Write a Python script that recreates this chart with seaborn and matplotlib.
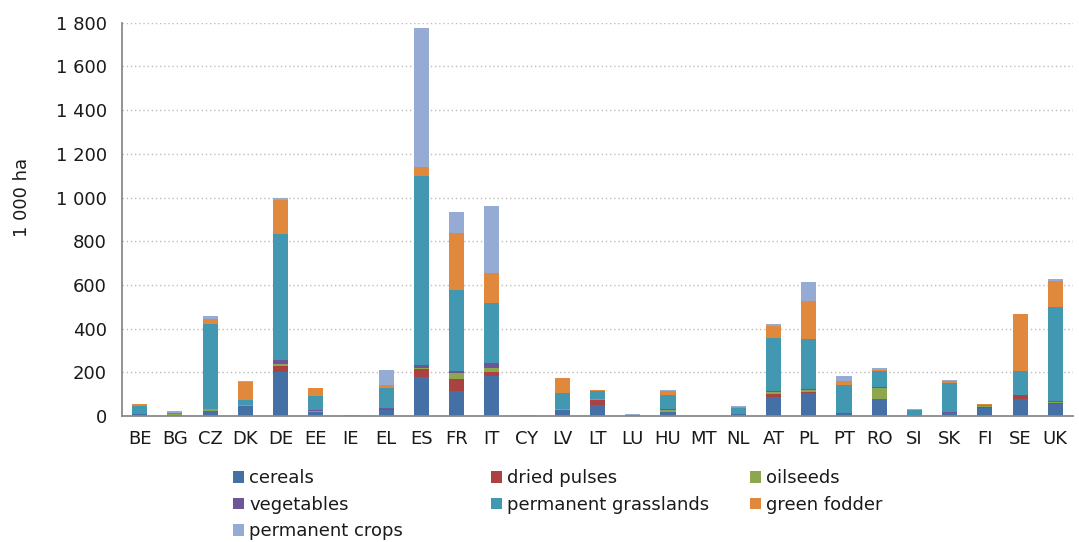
import matplotlib
matplotlib.use("Agg")
import matplotlib.pyplot as plt
import matplotlib.patches as mpatches
from matplotlib.ticker import FuncFormatter, FixedLocator
import seaborn as sns
import numpy as np
import pandas as pd

countries = ["BE", "BG", "CZ", "DK", "DE", "EE", "IE", "EL", "ES", "FR", "IT", "CY", "LV", "LT",
             "LU", "HU", "MT", "NL", "AT", "PL", "PT", "RO", "SI", "SK", "FI", "SE", "UK"]

cereals     = [8, 4, 24, 44, 203, 20, 1, 28, 177, 116, 184, 1, 27, 50, 1, 18, 0, 7, 88, 104, 8, 78, 2, 12, 36, 80, 55]
dried_pulses = [0, 0, 1, 3, 25, 0, 0, 3, 36, 52, 18, 0, 1, 25, 1, 2, 0, 0, 12, 8, 1, 0, 0, 0, 7, 14, 4]
oilseeds    = [1, 3, 6, 2, 8, 5, 0, 3, 8, 27, 16, 0, 3, 3, 0, 9, 0, 0, 11, 5, 1, 52, 0, 3, 2, 2, 3]
vegetables  = [1, 1, 1, 1, 20, 1, 0, 4, 12, 11, 23, 1, 1, 1, 1, 4, 1, 2, 5, 5, 2, 2, 1, 1, 1, 2, 7]
grasslands  = [35, 6, 388, 23, 575, 65, 1, 88, 865, 370, 274, 0, 75, 35, 2, 63, 0, 28, 242, 230, 128, 74, 24, 137, 3, 106, 430]
green_fodder = [8, 1, 25, 84, 156, 35, 1, 16, 41, 263, 141, 0, 67, 4, 1, 17, 0, 6, 53, 173, 18, 6, 2, 9, 4, 262, 121]
perm_crops  = [2, 10, 13, 3, 12, 3, 0, 68, 635, 94, 303, 3, 2, 2, 1, 6, 0, 3, 8, 87, 26, 6, 3, 2, 1, 2, 8]

series_names = ["cereals", "dried pulses", "oilseeds", "vegetables",
                "permanent grasslands", "green fodder", "permanent crops"]
series_values = [cereals, dried_pulses, oilseeds, vegetables, grasslands, green_fodder, perm_crops]
colors = ["#4470a6", "#ab4242", "#8ca74d", "#6d5599", "#4198b0", "#e0883c", "#95abd3"]

y_ticks = list(range(0, 1801, 200))

sns.set_style("white")
plt.rcParams["font.family"] = ["DejaVu Sans"]
FS = 13

fig = plt.figure(figsize=(10.79, 5.42), dpi=100)
ax = fig.add_axes([0.1131, 0.2325, 0.8813, 0.7255])

df = pd.DataFrame({name: vals for name, vals in zip(series_names, series_values)}, index=countries)
cum = df.cumsum(axis=1)

for i in range(len(series_names) - 1, -1, -1):
    sns.barplot(x=countries, y=cum[series_names[i]].values, order=countries,
                color=colors[i], saturation=1, width=0.43, errorbar=None,
                edgecolor="none", linewidth=0, ax=ax, zorder=2)

ax.set_ylim(0, 1800)
ax.set_xlim(-0.5, len(countries) - 0.5)
ax.set_yticks(y_ticks)
ax.yaxis.set_major_formatter(FuncFormatter(lambda v, p: f"{int(v):,}".replace(",", " ")))
ax.yaxis.grid(True, linestyle=(0, (1.0, 2.0)), color="#bcbcbc", linewidth=1.0, zorder=0)
ax.xaxis.grid(False)
ax.set_axisbelow(True)

ax.set_xticks(range(len(countries)))
ax.set_xticklabels(countries)
ax.xaxis.set_minor_locator(FixedLocator(np.arange(-0.5, len(countries), 1.0)))
ax.tick_params(axis="x", which="major", length=0, pad=10, labelsize=FS, labelcolor="#1a1a1a")
ax.tick_params(axis="x", which="minor", length=5, width=1, color="#999999", direction="out")
ax.tick_params(axis="y", which="major", length=5, width=1, color="#999999", direction="out",
               pad=6, labelsize=FS, labelcolor="#1a1a1a")

for s in ["top", "right"]:
    ax.spines[s].set_visible(False)
for s in ["left", "bottom"]:
    ax.spines[s].set_color("#8a8a8a")
    ax.spines[s].set_linewidth(1.3)

ax.set_xlabel("")
ax.set_ylabel("1 000 ha", fontsize=FS, color="#1a1a1a")
ax.yaxis.set_label_coords(-0.0955, 0.556)

# legend: three columns at fixed positions, row-wise ordering
handles = [mpatches.Patch(facecolor=c, edgecolor="none", label=n) for c, n in zip(colors, series_names)]
cols = [[0, 3, 6], [1, 4], [2, 5]]
xpos = [0.2158, 0.4548, 0.6948]
for xi, idxs in zip(xpos, cols):
    leg = fig.legend([handles[k] for k in idxs], [series_names[k] for k in idxs],
                     loc="upper left", bbox_to_anchor=(xi, 0.134), frameon=False,
                     fontsize=FS, handlelength=0.62, handleheight=0.62, handletextpad=0.3,
                     labelspacing=0.47, borderpad=0, borderaxespad=0)
    for t in leg.get_texts():
        t.set_color("#1a1a1a")

fig.savefig("out.png", dpi=100)
